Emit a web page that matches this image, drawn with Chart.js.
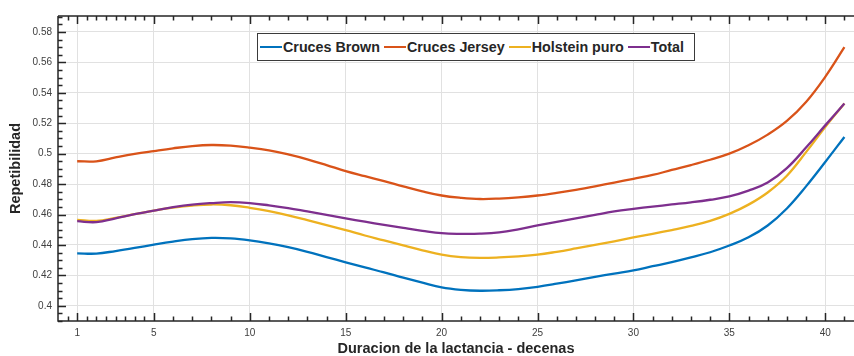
<!DOCTYPE html>
<html><head><meta charset="utf-8">
<script src="https://cdn.jsdelivr.net/npm/chart.js@4.4.1/dist/chart.umd.min.js"></script>
<style>
html,body{margin:0;padding:0;background:#fff;}
#wrap{position:relative;width:854px;height:356px;overflow:hidden;}
#legend{position:absolute;left:257px;top:33px;width:434px;height:26px;border:1.5px solid #3a3a3a;background:#fff;display:flex;align-items:center;font:bold 14.3px "Liberation Sans",Arial,sans-serif;color:#262626;padding-left:2px;}
.item{display:flex;align-items:center;margin-right:4px;white-space:nowrap;}
.sw{width:22px;height:2.5px;margin-right:1px;}
</style></head>
<body>
<div id="wrap">
<canvas id="c" width="854" height="356"></canvas>
<div id="legend"></div>
</div>
<script>
const seriesNames = ["Cruces Brown", "Cruces Jersey", "Holstein puro", "Total"];
const seriesColors = ["#0072BD", "#D95319", "#EDB120", "#7E2F8E"];
const decenas = [1,2,3,4,5,6,7,8,9,10,11,12,13,14,15,16,17,18,19,20,21,22,23,24,25,26,27,28,29,30,31,32,33,34,35,36,37,38,39,40,41];
const crucesBrown = [0.4345,0.4343,0.4360,0.4380,0.4402,0.4422,0.4438,0.4446,0.4443,0.4430,0.4410,0.4385,0.4355,0.4320,0.4286,0.4252,0.4220,0.4185,0.4152,0.4121,0.4105,0.4099,0.4102,0.4110,0.4125,0.4145,0.4167,0.4190,0.4212,0.4233,0.4260,0.4287,0.4318,0.4352,0.4396,0.4450,0.4528,0.4640,0.4785,0.4945,0.5110];
const crucesJersey = [0.4950,0.4950,0.4975,0.4998,0.5017,0.5035,0.5050,0.5057,0.5053,0.5040,0.5022,0.4995,0.4963,0.4925,0.4885,0.4852,0.4820,0.4785,0.4752,0.4725,0.4710,0.4702,0.4705,0.4713,0.4725,0.4742,0.4762,0.4785,0.4810,0.4835,0.4860,0.4893,0.4925,0.4960,0.5000,0.5055,0.5125,0.5215,0.5340,0.5505,0.5700];
const holsteinPuro = [0.4565,0.4558,0.4578,0.4602,0.4626,0.4645,0.4659,0.4666,0.4661,0.4644,0.4622,0.4595,0.4563,0.4530,0.4497,0.4462,0.4430,0.4397,0.4365,0.4336,0.4320,0.4315,0.4318,0.4325,0.4336,0.4355,0.4377,0.4400,0.4424,0.4449,0.4473,0.4498,0.4525,0.4558,0.4604,0.4665,0.4745,0.4855,0.5010,0.5175,0.5330];
const total = [0.4556,0.4550,0.4575,0.4602,0.4626,0.4648,0.4665,0.4675,0.4681,0.4675,0.4660,0.4642,0.4620,0.4598,0.4575,0.4553,0.4532,0.4512,0.4493,0.4477,0.4473,0.4474,0.4482,0.4502,0.4528,0.4552,0.4575,0.4598,0.4620,0.4637,0.4652,0.4666,0.4680,0.4697,0.4719,0.4757,0.4810,0.4905,0.5040,0.5186,0.5330];
const xTicks = [1,5,10,15,20,25,30,35,40];
const yTicks = [0.40,0.42,0.44,0.46,0.48,0.50,0.52,0.54,0.56,0.58];
const xTitle = "Duracion de la lactancia - decenas";
const yTitle = "Repetibilidad";

const allSeries = [crucesBrown, crucesJersey, holsteinPuro, total];
const FONT = '"Liberation Sans", Arial, sans-serif';

// legend
const leg = document.getElementById('legend');
seriesNames.forEach((n,i)=>{
  const it=document.createElement('div'); it.className='item';
  const sw=document.createElement('span'); sw.className='sw'; sw.style.background=seriesColors[i];
  const tx=document.createElement('span'); tx.textContent=n;
  it.appendChild(sw); it.appendChild(tx); leg.appendChild(it);
});

const axisPlugin = {
  id:'matlabAxes',
  afterDatasetsDraw(chart){
    const {ctx, chartArea:a, scales:{x,y}} = chart;
    ctx.save();
    ctx.strokeStyle='#262626'; ctx.lineWidth=1.5;
    ctx.beginPath();
    ctx.moveTo(a.left, a.top); ctx.lineTo(a.left, a.bottom); ctx.lineTo(a.right, a.bottom);
    ctx.moveTo(a.left, a.top); ctx.lineTo(a.right, a.top);
    ctx.stroke();
    const MAJ=8, MIN=4.5;
    ctx.lineWidth=1.5;
    ctx.beginPath();
    const xMinor=[];
    for(let i=0;i<xTicks.length-1;i++){
      const span=xTicks[i+1]-xTicks[i];
      const step= span<5 ? 0.5 : 1;
      for(let v=xTicks[i]+step; v<xTicks[i+1]-1e-9; v+=step) xMinor.push(v);
    }
    xMinor.push(0.5);
    for(let v=xTicks[xTicks.length-1]+1; v<=x.max; v+=1) xMinor.push(v);
    xTicks.forEach(v=>{const p=Math.round(x.getPixelForValue(v))+0.5;
      ctx.moveTo(p,a.bottom); ctx.lineTo(p,a.bottom-MAJ); ctx.moveTo(p,a.top); ctx.lineTo(p,a.top+MAJ);});
    xMinor.forEach(v=>{const p=Math.round(x.getPixelForValue(v))+0.5;
      ctx.moveTo(p,a.bottom); ctx.lineTo(p,a.bottom-MIN); ctx.moveTo(p,a.top); ctx.lineTo(p,a.top+MIN);});
    yTicks.forEach(v=>{const p=Math.round(y.getPixelForValue(v))+0.5;
      ctx.moveTo(a.left,p); ctx.lineTo(a.left+MAJ,p);});
    for(let k=0;k<=40;k++){
      const v=0.39+k*0.005;
      if(v>y.max) break;
      if(Math.abs(Math.round(v*50)-v*50)<1e-6) continue;
      const p=Math.round(y.getPixelForValue(v))+0.5;
      ctx.moveTo(a.left,p); ctx.lineTo(a.left+MIN,p);
    }
    ctx.stroke();
    ctx.restore();
  }
};

new Chart(document.getElementById('c'), {
  type:'line',
  data:{
    labels: decenas,
    datasets: seriesNames.map((n,i)=>({
      label:n,
      data: decenas.map((d,j)=>({x:d, y:allSeries[i][j]})),
      borderColor: seriesColors[i],
      backgroundColor: seriesColors[i],
      borderWidth: 2.3,
      pointRadius: 0,
      tension: 0.4,
      fill:false,
      order: 3-i
    }))
  },
  options:{
    responsive:false,
    animation:false,
    devicePixelRatio:1,
    layout:{padding:{top:16,right:0,left:0,bottom:0}},
    plugins:{legend:{display:false}, tooltip:{enabled:false}},
    scales:{
      x:{
        type:'linear', min:0, max:41.5,
        afterBuildTicks(s){ s.ticks = xTicks.map(v=>({value:v})); },
        afterFit(s){ s.height = 35; },
        grid:{color:'#e1e1e1', lineWidth:1, drawTicks:false},
        border:{display:false},
        ticks:{padding:6, color:'#404040', font:{family:FONT, size:10}, maxRotation:0, autoSkip:false,
          callback:(v)=>String(v)},
        title:{display:true, text:xTitle, color:'#262626', font:{family:FONT, size:14.5, weight:'bold', lineHeight:1}, padding:{top:0,bottom:0}}
      },
      y:{
        type:'linear', min:0.39, max:0.5905,
        afterBuildTicks(s){ s.ticks = yTicks.map(v=>({value:v})); },
        afterFit(s){ s.width = 58; },
        grid:{color:'#e1e1e1', lineWidth:1, drawTicks:false},
        border:{display:false},
        ticks:{padding:6, color:'#404040', font:{family:FONT, size:10}, autoSkip:false,
          callback:(v)=>String(parseFloat(Number(v).toFixed(2)))},
        title:{display:true, text:yTitle, color:'#262626', font:{family:FONT, size:14.5, weight:'bold', lineHeight:1}, padding:{top:9,bottom:0}}
      }
    }
  },
  plugins:[axisPlugin]
});
</script>
</body></html>
